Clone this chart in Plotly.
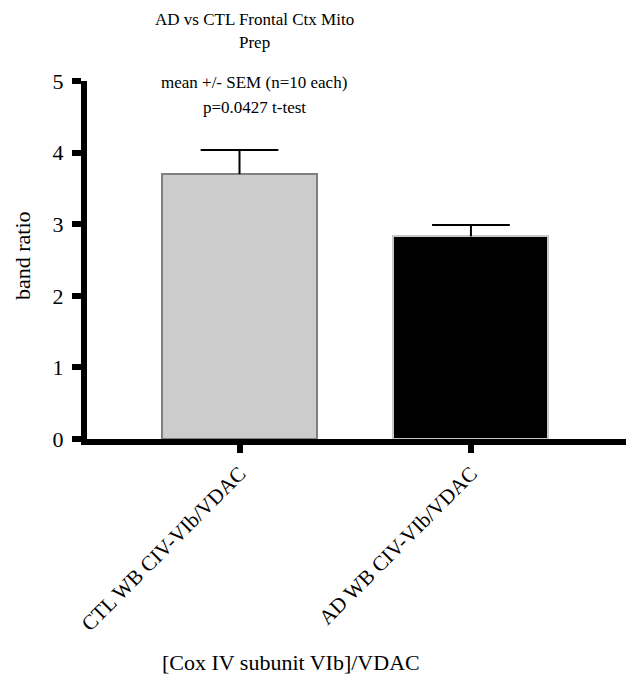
import plotly.graph_objects as go

categories = ["CTL WB CIV-VIb/VDAC", "AD WB CIV-VIb/VDAC"]
means = [3.70, 2.83]
sems = [0.335, 0.16]
fill_colors = ["#cccccc", "#000000"]
edge_colors = ["#808080", "#c8c8c8"]
y_ticks = [0, 1, 2, 3, 4, 5]
title_lines = ["AD vs CTL Frontal Ctx Mito", "Prep", "mean +/- SEM (n=10 each)", "p=0.0427 t-test"]
x_title = "[Cox IV subunit VIb]/VDAC"
y_title = "band ratio"

FONT = "Liberation Serif"
W, H = 640, 687
L, R, T, B = 87, 14, 81, 248
X_RANGE = [-0.659, 1.67]
BAR_W = 0.67
CAP_HALF = 0.168  # in category units

fig = go.Figure()
xs = list(range(len(categories)))
fig.add_trace(go.Bar(
    x=xs, y=means, width=BAR_W,
    marker=dict(color=fill_colors, line=dict(color=edge_colors, width=2)),
    hoverinfo="skip",
))

# upper-only SEM whiskers built from the data arrays
ex, ey = [], []
for i, (m, s) in enumerate(zip(means, sems)):
    ex += [i, i, None, i - CAP_HALF, i + CAP_HALF, None]
    ey += [m, m + s, None, m + s, m + s, None]
fig.add_trace(go.Scatter(x=ex, y=ey, mode="lines",
                         line=dict(color="black", width=2), hoverinfo="skip"))

fig.update_layout(
    template="none",
    width=W, height=H,
    margin=dict(l=L, r=R, t=T, b=B, pad=0, autoexpand=False),
    paper_bgcolor="white", plot_bgcolor="white",
    showlegend=False,
    font=dict(family=FONT, size=20, color="black"),
    bargap=0,
)
fig.update_xaxes(
    range=X_RANGE, automargin=False,
    tickmode="array", tickvals=xs, ticktext=categories,
    tickangle=-45,
    showline=True, linecolor="black", linewidth=6,
    ticks="outside", ticklen=8, tickwidth=6, tickcolor="black",
    showgrid=False, zeroline=False,
    tickfont=dict(family=FONT, size=21, color="black"),
)
fig.update_yaxes(
    range=[0, 5], automargin=False,
    tickmode="array", tickvals=y_ticks, ticktext=[str(v) for v in y_ticks],
    showline=True, linecolor="black", linewidth=6,
    ticks="outside", ticklen=9, tickwidth=6, tickcolor="black",
    ticklabelstandoff=4,
    showgrid=False, zeroline=False,
    tickfont=dict(family=FONT, size=22, color="black"),
)

PW, PH = W - L - R, H - T - B
def ax_x(px):
    return (px - L) / PW
def ax_y(py):
    return (H - B - py) / PH

title_y = [19, 43, 82, 107]
for txt, yy in zip(title_lines, title_y):
    fig.add_annotation(text=txt, xref="paper", yref="paper",
                       x=ax_x(254), y=ax_y(yy),
                       xanchor="center", yanchor="middle", showarrow=False,
                       font=dict(family=FONT, size=17, color="black"))

fig.add_annotation(text=x_title, xref="paper", yref="paper",
                   x=ax_x(291), y=ax_y(662),
                   xanchor="center", yanchor="middle", showarrow=False,
                   font=dict(family=FONT, size=22, color="black"))
fig.add_annotation(text=y_title, xref="paper", yref="paper", textangle=-90,
                   x=ax_x(22), y=ax_y(256),
                   xanchor="center", yanchor="middle", showarrow=False,
                   font=dict(family=FONT, size=22, color="black"))

fig.write_html("out.html", config={"displayModeBar": False},
               post_script="document.body.style.margin='0';")
